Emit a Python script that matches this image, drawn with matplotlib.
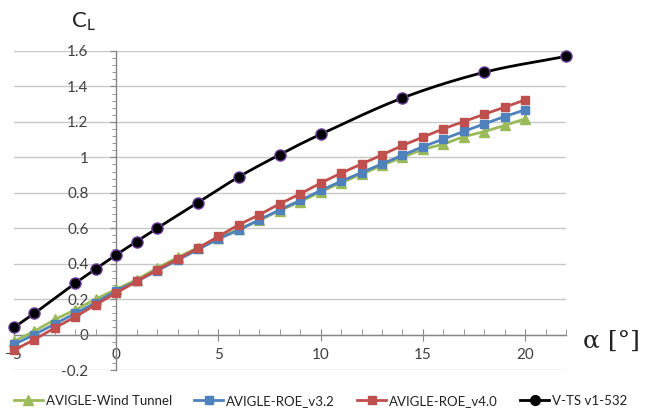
import numpy as np
import matplotlib
matplotlib.use("Agg")
import matplotlib.pyplot as plt
from matplotlib.ticker import MultipleLocator

plt.rcParams["font.family"] = ["Lato", "DejaVu Sans"]

# angle of attack for the AVIGLE series
alpha = list(range(-5, 21))

cl_wind_tunnel = [-0.038, 0.019, 0.085, 0.14, 0.20, 0.255, 0.31, 0.375, 0.435, 0.49,
                  0.545, 0.595, 0.645, 0.70, 0.75, 0.805, 0.857, 0.905, 0.955, 1.0,
                  1.045, 1.074, 1.117, 1.145, 1.18, 1.217]
cl_roe_v32 = [-0.056, 0.0, 0.06, 0.12, 0.18, 0.248, 0.30, 0.36, 0.42, 0.48,
              0.54, 0.59, 0.648, 0.704, 0.757, 0.813, 0.865, 0.914, 0.963, 1.012,
              1.06, 1.103, 1.146, 1.189, 1.23, 1.268]
cl_roe_v40 = [-0.088, -0.028, 0.038, 0.10, 0.169, 0.235, 0.30, 0.366, 0.426, 0.488,
              0.554, 0.62, 0.676, 0.738, 0.794, 0.855, 0.911, 0.962, 1.014, 1.067,
              1.114, 1.161, 1.202, 1.243, 1.283, 1.324]

alpha_vts = [-5, -4, -2, -1, 0, 1, 2, 4, 6, 8, 10, 14, 18, 22]
cl_vts = [0.04, 0.12, 0.29, 0.37, 0.45, 0.525, 0.60, 0.745, 0.89, 1.015, 1.13, 1.335, 1.48, 1.57]

labels = ["AVIGLE-Wind Tunnel", "AVIGLE-ROE_v3.2", "AVIGLE-ROE_v4.0", "V-TS v1-532"]

GREEN = "#9BBB59"
BLUE = "#4F81BD"
RED = "#C0504D"


def catmull_rom(xs, ys, n=24):
    """Smoothed curve through the given points (Catmull-Rom spline)."""
    p = np.column_stack([xs, ys]).astype(float)
    p = np.vstack([2 * p[0] - p[1], p, 2 * p[-1] - p[-2]])
    out = []
    t = np.linspace(0, 1, n, endpoint=False)[:, None]
    for i in range(1, len(p) - 2):
        p0, p1, p2, p3 = p[i - 1], p[i], p[i + 1], p[i + 2]
        seg = 0.5 * ((2 * p1) + (-p0 + p2) * t + (2 * p0 - 5 * p1 + 4 * p2 - p3) * t ** 2
                     + (-p0 + 3 * p1 - 3 * p2 + p3) * t ** 3)
        out.append(seg)
    out.append(p[-2][None, :])
    out = np.vstack(out)
    return out[:, 0], out[:, 1]


fig = plt.figure(figsize=(6.5, 4.12), dpi=100)
ax = fig.add_axes([14 / 650, 1 - 370 / 412, 552 / 650, 319 / 412])

ax.plot(alpha, cl_wind_tunnel, color=GREEN, lw=2, marker="^", ms=7, label=labels[0],
        zorder=3, clip_on=False)
ax.plot(alpha, cl_roe_v32, color=BLUE, lw=2, marker="s", ms=5.5, label=labels[1],
        zorder=4, clip_on=False)
ax.plot(alpha, cl_roe_v40, color=RED, lw=2, marker="s", ms=5.5, label=labels[2],
        zorder=5, clip_on=False)

sx, sy = catmull_rom(alpha_vts, cl_vts)
ax.plot(sx, sy, color="black", lw=2, zorder=6, clip_on=False)
ax.plot(alpha_vts, cl_vts, ls="none", marker="o", ms=8, mfc="black", mec="#6a3d9a", mew=1,
        zorder=7, clip_on=False)
ax.plot([], [], color="black", lw=2, marker="o", ms=7, label=labels[3])

ax.set_xlim(-5, 22)
ax.set_ylim(-0.2, 1.6)

ax.spines["left"].set_position(("data", 0))
ax.spines["bottom"].set_position(("data", 0))
for side in ("top", "right"):
    ax.spines[side].set_visible(False)
for side in ("left", "bottom"):
    ax.spines[side].set_color("#868686")
    ax.spines[side].set_linewidth(1)

ax.xaxis.set_major_locator(MultipleLocator(5))
ax.xaxis.set_minor_locator(MultipleLocator(1))
ax.yaxis.set_major_locator(MultipleLocator(0.2))
ax.yaxis.set_minor_locator(MultipleLocator(0.04))

ax.yaxis.set_major_formatter(plt.FuncFormatter(lambda v, _: f"{v:g}"))

ax.grid(axis="y", color="#C8C8C8", lw=1, zorder=0)
ax.set_axisbelow(True)

ax.tick_params(axis="x", which="major", direction="inout", length=8, color="#868686",
               labelsize=11, labelcolor="#404040", pad=6)
ax.tick_params(axis="x", which="minor", direction="in", length=4, color="#868686")
ax.tick_params(axis="y", which="major", direction="out", length=4, color="#868686",
               labelsize=11, labelcolor="#404040", pad=16)
ax.tick_params(axis="y", which="minor", direction="out", length=3, color="#868686")

for lbl in ax.get_xticklabels() + ax.get_yticklabels():
    lbl.set_clip_on(False)

fig.text(83 / 650, 1 - 22 / 412, r"$\mathregular{C_L}$", fontsize=16, ha="center", va="center",
         color="#222222")
fig.text(611 / 650, 1 - 341 / 412, "α [°]", fontsize=18, ha="center", va="center",
         color="#222222", family=["DejaVu Serif"])

fig.legend(loc="center", bbox_to_anchor=(0.493, 1 - 401 / 412), ncol=4, frameon=False,
           fontsize=9.5, handlelength=2.2, handletextpad=0.2, columnspacing=1.7,
           labelcolor="#222222")

fig.savefig("out.png", dpi=100)
